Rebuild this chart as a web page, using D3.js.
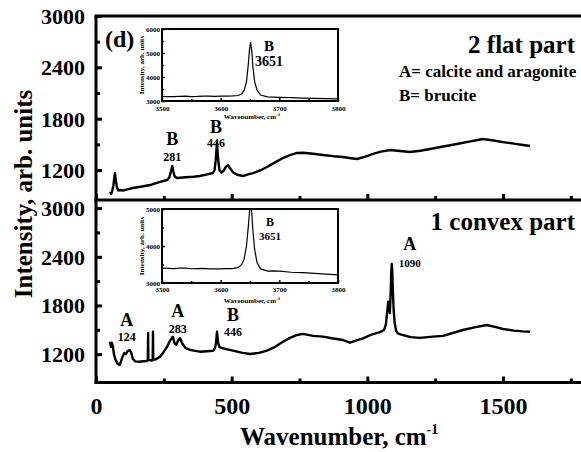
<!DOCTYPE html>
<html>
<head>
<meta charset="utf-8">
<script src="https://cdn.jsdelivr.net/npm/d3@7/dist/d3.min.js"></script>
<style>
  body { margin: 0; background: #fff; }
  svg { display: block; }
  text { font-family: "Liberation Serif", "Times New Roman", serif; font-weight: bold; fill: #000; }
</style>
</head>
<body>
<svg id="chart" width="581" height="452"></svg>
<script>
// Raman spectra: [wavenumber (cm-1), intensity (arb. units)]
const flatSpectrum = [
  [52,943],[56,920],[60,960],[64,1020],[67,1100],[70,1165],[73,1080],[77,1000],[82,960],[88,967],
  [100,960],[115,975],[136,990],[165,1005],[199,1025],[230,1055],[262,1084],[270,1110],[275,1170],
  [281,1247],[285,1180],[290,1125],[299,1107],[330,1115],[360,1122],[383,1130],[410,1150],[431,1165],
  [437,1200],[441,1310],[444,1440],[446,1516],[448,1420],[451,1300],[455,1200],[462,1170],[470,1190],
  [478,1235],[486,1259],[494,1220],[505,1175],[520,1145],[542,1130],[560,1150],[579,1165],[605,1195],
  [630,1236],[660,1290],[689,1340],[715,1375],[741,1400],[763,1402],[800,1390],[837,1376],[875,1362],
  [910,1352],[940,1338],[962,1329],[990,1355],[1021,1388],[1050,1415],[1084,1434],[1120,1422],
  [1157,1411],[1195,1425],[1231,1446],[1280,1475],[1330,1504],[1380,1535],[1426,1563],[1465,1545],
  [1500,1527],[1540,1508],[1574,1493],[1600,1481]
];
const convexSpectrum = [
  [52,1353],[55,1290],[58,1340],[62,1300],[66,1200],[72,1130],[80,1080],[88,1066],[96,1150],[104,1215],
  [110,1200],[116,1235],[124,1252],[130,1215],[136,1140],[145,1110],[160,1106],[175,1112],[188,1115],
  [191,1130],[192,1460],[193,1130],[206,1120],[209,1130],[210,1476],[211,1130],[220,1135],[236,1168],
  [250,1230],[262,1291],[272,1360],[283,1415],[290,1330],[296,1315],[303,1370],[310,1395],[318,1330],
  [330,1275],[350,1250],[383,1230],[410,1236],[431,1242],[438,1270],[442,1330],[446,1476],[450,1340],
  [455,1285],[464,1275],[480,1262],[505,1242],[540,1215],[568,1201],[600,1215],[630,1242],[660,1290],
  [689,1353],[715,1400],[741,1436],[763,1450],[800,1425],[837,1415],[875,1392],[910,1374],[936,1341],
  [960,1370],[984,1395],[1015,1440],[1047,1470],[1062,1500],[1068,1560],[1072,1680],[1077,1846],
  [1080,1780],[1083,1707],[1086,1950],[1088,2200],[1090,2311],[1092,2220],[1094,1980],[1097,1744],
  [1101,1580],[1106,1490],[1112,1455],[1125,1440],[1160,1410],[1194,1400],[1240,1415],[1279,1425],
  [1315,1460],[1352,1497],[1395,1530],[1440,1559],[1470,1535],[1500,1510],[1540,1490],[1574,1480],
  [1600,1476]
];
// O-H stretching region of brucite
const flatInset = [
  [3500,3190],[3510,3185],[3520,3180],[3530,3195],[3540,3200],[3550,3185],[3560,3190],[3570,3205],
  [3580,3200],[3590,3195],[3600,3200],[3610,3205],[3620,3210],[3630,3230],[3636,3300],[3640,3450],
  [3644,3800],[3647,4500],[3649,5100],[3651,5450],[3653,5100],[3655,4400],[3658,3800],[3662,3450],
  [3668,3250],[3680,3170],[3690,3160],[3700,3150],[3720,3140],[3740,3120],[3760,3110],[3780,3100],
  [3800,3090]
];
const convexInset = [
  [3500,3400],[3510,3395],[3520,3390],[3530,3405],[3540,3400],[3550,3385],[3560,3390],[3570,3395],
  [3580,3380],[3590,3385],[3600,3380],[3610,3390],[3620,3390],[3630,3420],[3636,3500],[3640,3650],
  [3644,4000],[3647,4500],[3649,4900],[3651,5150],[3653,4900],[3655,4400],[3658,3900],[3662,3550],
  [3668,3380],[3680,3320],[3690,3325],[3700,3320],[3720,3290],[3740,3280],[3760,3260],[3780,3240],
  [3800,3220]
];

// Axis ticks
const xMajorTicks = [0, 500, 1000, 1500];
const xMinorTicks = [250, 750, 1250, 1750];
const yMajorTicks = [1200, 1800, 2400, 3000];
const yMinorTicks = [1500, 2100, 2700];
const insetXMajor = [3500, 3600, 3700, 3800];
const insetXMinor = [3550, 3650, 3750];
const flatInsetYMajor = [3000, 4000, 5000, 6000];
const flatInsetYMinor = [3500, 4500, 5500];
const convexInsetYMajor = [3000, 4000, 5000];
const convexInsetYMinor = [3500, 4500];

// Peak assignments (A = calcite/aragonite, B = brucite)
const flatPeaks = [
  { wn: 281, tag: "B" },
  { wn: 446, tag: "B" }
];
const convexPeaks = [
  { wn: 124, tag: "A" },
  { wn: 283, tag: "A" },
  { wn: 446, tag: "B" },
  { wn: 1090, tag: "A" }
];
const insetPeak = 3651;

const svg = d3.select("#chart");

const x = d3.scaleLinear().domain([0, 1800]).range([96, 584.4]);
const yFlat = d3.scaleLinear().domain([850, 3000]).range([200, 16]);
const yConvex = d3.scaleLinear().domain([850, 3100]).range([382.5, 200]);

const defs = svg.append("defs");
function clip(id, x0, y0, x1, y1) {
  defs.append("clipPath").attr("id", id).append("rect")
    .attr("x", x0).attr("y", y0).attr("width", x1 - x0).attr("height", y1 - y0);
  return `url(#${id})`;
}

function styleAxis(g, sw) {
  g.select(".domain").remove();
  g.selectAll(".tick line").attr("stroke", "#000").attr("stroke-width", sw);
}

// Spectra
function drawSpectrum(data, y, clipId) {
  const [y1, y0] = y.range();
  svg.append("path")
    .datum(data)
    .attr("clip-path", clip(clipId, x.range()[0], y0, x.range()[1], y1))
    .attr("fill", "none")
    .attr("stroke", "#000")
    .attr("stroke-width", 2.4)
    .attr("stroke-linejoin", "round")
    .attr("d", d3.line().x(d => x(d[0])).y(d => y(d[1])));
}
drawSpectrum(flatSpectrum, yFlat, "clipFlat");
drawSpectrum(convexSpectrum, yConvex, "clipConvex");

// Bottom tick rows (inward) for both panels
function xTicks(y0, withLabels) {
  const major = svg.append("g").attr("transform", `translate(0,${y0})`)
    .call(d3.axisBottom(x).tickValues(xMajorTicks).tickSize(-6).tickSizeOuter(0).tickPadding(16)
      .tickFormat(withLabels ? d3.format("d") : ""));
  styleAxis(major, 3);
  major.selectAll("text").attr("font-size", 24).attr("dy", 0).attr("y", 31)
    .attr("font-family", '"Liberation Serif", serif').attr("font-weight", "bold");
  const minor = svg.append("g").attr("transform", `translate(0,${y0})`)
    .call(d3.axisBottom(x).tickValues(xMinorTicks).tickSize(-4).tickSizeOuter(0).tickFormat(""));
  styleAxis(minor, 3);
}
xTicks(yFlat.range()[0], false);
xTicks(yConvex.range()[0], true);

// Left tick columns
function yTicks(y) {
  const major = svg.append("g").attr("transform", `translate(${x.range()[0]},0)`)
    .call(d3.axisLeft(y).tickValues(yMajorTicks).tickSize(-6).tickSizeOuter(0).tickPadding(11)
      .tickFormat(d3.format("d")));
  styleAxis(major, 3);
  major.selectAll("text").attr("font-size", 22).attr("dy", "0.34em")
    .attr("font-family", '"Liberation Serif", serif').attr("font-weight", "bold");
  const minor = svg.append("g").attr("transform", `translate(${x.range()[0]},0)`)
    .call(d3.axisLeft(y).tickValues(yMinorTicks).tickSize(-4).tickSizeOuter(0).tickFormat(""));
  styleAxis(minor, 3);
}
yTicks(yFlat);
yTicks(yConvex);

// Frame
const fx0 = x.range()[0], fx1 = x.range()[1];
const frameY = [yFlat.range()[1], yFlat.range()[0], yConvex.range()[0]];
frameY.forEach(yy => svg.append("line").attr("x1", fx0 - 1.5).attr("x2", fx1).attr("y1", yy).attr("y2", yy)
  .attr("stroke", "#000").attr("stroke-width", 3));
svg.append("line").attr("x1", fx0).attr("x2", fx0).attr("y1", frameY[0]).attr("y2", frameY[2])
  .attr("stroke", "#000").attr("stroke-width", 3);
svg.append("line").attr("x1", fx1).attr("x2", fx1).attr("y1", frameY[0]).attr("y2", frameY[2])
  .attr("stroke", "#000").attr("stroke-width", 3);

// Axis titles
svg.append("text")
  .attr("transform", "translate(32,194) rotate(-90)")
  .attr("text-anchor", "middle")
  .attr("font-size", 25)
  .text("Intensity, arb. units");

const xt = svg.append("text").attr("x", 240).attr("y", 445).attr("font-size", 25);
xt.append("tspan").text("Wavenumber, cm");
xt.append("tspan").attr("font-size", 14).attr("dy", -11).text("-1");

// Panel annotations
svg.append("text").attr("x", 105).attr("y", 47).attr("font-size", 24).text("(d)");
svg.append("text").attr("x", 575).attr("y", 53).attr("text-anchor", "end").attr("font-size", 25).text("2 flat part");
svg.append("text").attr("x", 399).attr("y", 77).attr("font-size", 17).text("A= calcite and aragonite");
svg.append("text").attr("x", 399).attr("y", 101).attr("font-size", 17).text("B= brucite");
svg.append("text").attr("x", 575).attr("y", 230).attr("text-anchor", "end").attr("font-size", 25).text("1 convex part");

// Peak labels: letter above the wavenumber
const flatPeakPlacement = [
  { dx: 0, tagY: 145, numY: 161 },
  { dx: -1, tagY: 133, numY: 147 }
];
const convexPeakPlacement = [
  { dx: -3, tagY: 326, numY: 341 },
  { dx: 5, tagY: 317, numY: 333 },
  { dx: 16, tagY: 321, numY: 336 },
  { dx: 18, tagY: 250, numY: 267, numSize: 11 }
];
function peakLabels(peaks, placement) {
  peaks.forEach((p, i) => {
    const pl = placement[i];
    const cx = x(p.wn) + pl.dx;
    svg.append("text").attr("x", cx).attr("y", pl.tagY).attr("text-anchor", "middle")
      .attr("font-size", 18).text(p.tag);
    svg.append("text").attr("x", cx).attr("y", pl.numY).attr("text-anchor", "middle")
      .attr("font-size", pl.numSize || 12).text(p.wn);
  });
}
peakLabels(flatPeaks, flatPeakPlacement);
peakLabels(convexPeaks, convexPeakPlacement);

// Insets
function inset(opt) {
  const ix = d3.scaleLinear().domain([3500, 3800]).range([162, 338]);
  const iy = d3.scaleLinear().domain(opt.yDomain).range([opt.bottom, opt.top]);
  const g = svg.append("g");
  g.append("rect").attr("x", 162).attr("y", opt.top).attr("width", 176).attr("height", opt.bottom - opt.top)
    .attr("fill", "#fff");
  g.append("path").datum(opt.data)
    .attr("clip-path", clip(opt.id, 162, opt.top, 338, opt.bottom))
    .attr("fill", "none").attr("stroke", "#000").attr("stroke-width", 1.2)
    .attr("d", d3.line().x(d => ix(d[0])).y(d => iy(d[1])));

  const ax = g.append("g").attr("transform", `translate(0,${opt.bottom})`)
    .call(d3.axisBottom(ix).tickValues(insetXMajor).tickSize(-3).tickSizeOuter(0).tickPadding(4).tickFormat(d3.format("d")));
  styleAxis(ax, 1.5);
  ax.selectAll("text").attr("font-size", 7).attr("dy", 0).attr("y", opt.xLabelY - opt.bottom)
    .attr("font-family", '"Liberation Serif", serif').attr("font-weight", "bold");
  const axm = g.append("g").attr("transform", `translate(0,${opt.bottom})`)
    .call(d3.axisBottom(ix).tickValues(insetXMinor).tickSize(-2).tickSizeOuter(0).tickFormat(""));
  styleAxis(axm, 1.5);

  const ay = g.append("g").attr("transform", "translate(162,0)")
    .call(d3.axisLeft(iy).tickValues(opt.yMajor).tickSize(-3).tickSizeOuter(0).tickPadding(2).tickFormat(d3.format("d")));
  styleAxis(ay, 1.5);
  ay.selectAll("text").attr("font-size", 7).attr("dy", "0.34em")
    .attr("font-family", '"Liberation Serif", serif').attr("font-weight", "bold");
  const aym = g.append("g").attr("transform", "translate(162,0)")
    .call(d3.axisLeft(iy).tickValues(opt.yMinor).tickSize(-2).tickSizeOuter(0).tickFormat(""));
  styleAxis(aym, 1.5);

  g.append("rect").attr("x", 162).attr("y", opt.top).attr("width", 176).attr("height", opt.bottom - opt.top)
    .attr("fill", "none").attr("stroke", "#000").attr("stroke-width", 2);

  g.append("text").attr("transform", `translate(144,${(opt.top + opt.bottom) / 2}) rotate(-90)`)
    .attr("text-anchor", "middle").attr("font-size", 7).text("Intensity, arb. units");
  const t = g.append("text").attr("x", 252).attr("y", opt.titleY).attr("text-anchor", "middle").attr("font-size", 7);
  t.append("tspan").text("Wavenumber, cm");
  t.append("tspan").attr("font-size", 5).attr("dy", -3).text("-1");

  g.append("text").attr("x", opt.peakX).attr("y", opt.tagY).attr("text-anchor", "middle")
    .attr("font-size", opt.tagSize).text("B");
  g.append("text").attr("x", opt.peakX).attr("y", opt.numY).attr("text-anchor", "middle")
    .attr("font-size", opt.numSize).text(insetPeak);
}
inset({
  id: "clipInsetFlat", data: flatInset, yDomain: [3000, 6000], top: 29, bottom: 101,
  yMajor: flatInsetYMajor, yMinor: flatInsetYMinor, xLabelY: 111, titleY: 119,
  peakX: 269, tagY: 51, numY: 66, tagSize: 15, numSize: 14
});
inset({
  id: "clipInsetConvex", data: convexInset, yDomain: [3000, 5000], top: 209, bottom: 283,
  yMajor: convexInsetYMajor, yMinor: convexInsetYMinor, xLabelY: 292, titleY: 303,
  peakX: 270, tagY: 226, numY: 240, tagSize: 12, numSize: 11
});
</script>
</body>
</html>
